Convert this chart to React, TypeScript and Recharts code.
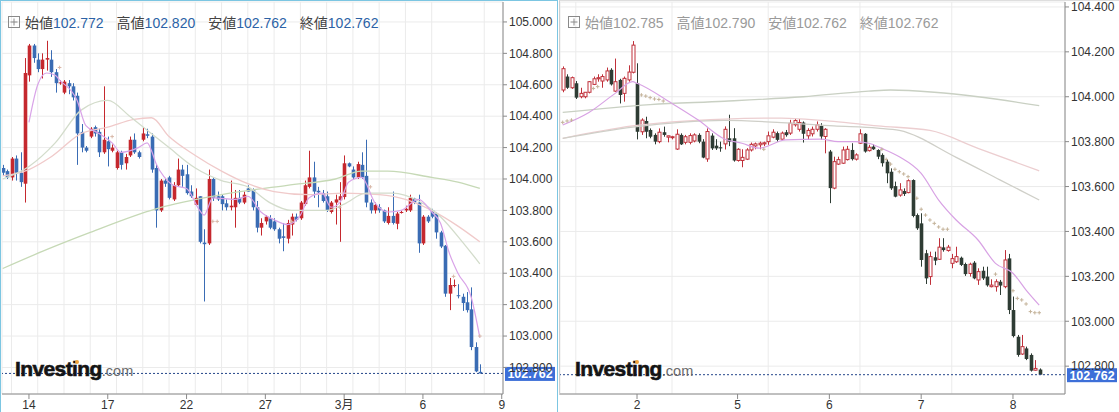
import React from 'react';
import { ComposedChart, Bar, Line, XAxis, YAxis, CartesianGrid, ReferenceLine } from 'recharts';

// ---- left panel (4h candles) : [open, high, low, close]
const leftCandles = [
  [104.07, 104.09, 104.02, 104.04], [104.05, 104.06, 104.0, 104.01], [104.01, 104.14, 103.99, 104.13], [104.13, 104.15, 103.99, 104.04],
  [104.04, 104.17, 103.95, 103.98], [103.97, 104.77, 103.85, 104.675], [104.66, 104.86, 104.62, 104.85], [104.85, 104.86, 104.74, 104.77],
  [104.76, 104.8, 104.68, 104.7], [104.7, 104.8, 104.64, 104.76], [104.76, 104.88, 104.69, 104.77], [104.76, 104.82, 104.65, 104.68],
  [104.68, 104.7, 104.55, 104.61], [104.61, 104.63, 104.6, 104.615], [104.55, 104.63, 104.54, 104.62], [104.61, 104.63, 104.54, 104.59],
  [104.59, 104.61, 104.5, 104.52], [104.53, 104.55, 104.09, 104.29], [104.3, 104.35, 104.17, 104.2], [104.2, 104.21, 104.17, 104.18],
  [104.27, 104.33, 104.26, 104.32], [104.33, 104.34, 104.27, 104.29], [104.3, 104.32, 104.14, 104.17], [104.17, 104.59, 104.16, 104.25],
  [104.24, 104.27, 104.08, 104.19], [104.18, 104.22, 104.17, 104.2], [104.07, 104.18, 104.06, 104.17], [104.17, 104.18, 104.06, 104.09],
  [104.1, 104.16, 104.06, 104.14], [104.15, 104.27, 104.14, 104.25], [104.25, 104.29, 104.16, 104.17], [104.17, 104.18, 104.13, 104.14],
  [104.25, 104.33, 104.24, 104.29], [104.285, 104.32, 104.26, 104.275], [104.27, 104.29, 104.04, 104.06], [104.07, 104.09, 103.69, 103.8],
  [103.8, 104.0, 103.79, 103.99], [103.99, 104.0, 103.95, 103.97], [104.01, 104.02, 103.87, 103.88], [103.87, 103.98, 103.86, 103.96],
  [103.96, 104.13, 103.95, 104.06], [104.06, 104.09, 103.95, 104.02], [104.03, 104.09, 103.9, 103.91], [103.92, 103.96, 103.88, 103.89],
  [103.835, 103.94, 103.83, 103.88], [103.89, 103.89, 103.59, 103.6], [103.595, 103.68, 103.22, 103.585], [103.59, 104.06, 103.58, 104.0],
  [104.0, 104.01, 103.86, 103.88], [103.89, 103.92, 103.86, 103.87], [103.89, 103.9, 103.8, 103.84], [103.845, 103.87, 103.8, 103.82],
  [103.82, 103.99, 103.8, 103.83], [103.82, 103.93, 103.69, 103.88], [103.88, 103.93, 103.84, 103.85], [103.85, 103.92, 103.84, 103.9],
  [103.94, 103.96, 103.92, 103.92], [103.93, 103.94, 103.8, 103.82], [103.82, 103.86, 103.66, 103.69], [103.69, 103.75, 103.64, 103.72],
  [103.73, 103.77, 103.71, 103.76], [103.75, 103.77, 103.68, 103.69], [103.73, 103.75, 103.67, 103.68], [103.68, 103.69, 103.59, 103.62],
  [103.635, 103.72, 103.54, 103.625], [103.62, 103.74, 103.59, 103.72], [103.71, 103.78, 103.64, 103.76], [103.76, 103.78, 103.73, 103.74],
  [103.75, 103.86, 103.74, 103.85], [103.84, 103.99, 103.83, 103.96], [103.95, 104.18, 103.94, 104.01], [104.01, 104.11, 103.88, 103.92],
  [103.925, 103.95, 103.82, 103.915], [103.91, 103.93, 103.85, 103.86], [103.89, 103.92, 103.79, 103.8], [103.79, 103.86, 103.78, 103.85],
  [103.85, 103.9, 103.71, 103.87], [103.865, 103.98, 103.6, 103.89], [103.885, 104.15, 103.87, 104.1], [104.1, 104.105, 104.075, 104.08],
  [104.06, 104.08, 104.0, 104.01], [104.01, 104.11, 104.0, 104.095], [104.09, 104.17, 104.0, 104.01], [104.02, 104.25, 103.82, 103.85],
  [103.85, 103.87, 103.78, 103.8], [103.8, 103.85, 103.78, 103.835], [103.82, 103.84, 103.785, 103.8], [103.8, 103.805, 103.72, 103.73],
  [103.72, 103.82, 103.71, 103.765], [103.765, 103.92, 103.71, 103.72], [103.715, 103.79, 103.68, 103.78], [103.785, 103.8, 103.78, 103.79],
  [103.8, 103.83, 103.79, 103.81], [103.8, 103.9, 103.79, 103.88], [103.875, 103.88, 103.84, 103.85], [103.85, 103.9, 103.53, 103.59],
  [103.59, 103.77, 103.58, 103.76], [103.76, 103.77, 103.72, 103.73], [103.8, 103.81, 103.75, 103.76], [103.78, 103.79, 103.62, 103.66],
  [103.66, 103.67, 103.56, 103.57], [103.575, 103.58, 103.25, 103.27], [103.27, 103.37, 103.165, 103.325], [103.32, 103.36, 103.31, 103.325],
  [103.26, 103.33, 103.24, 103.255], [103.25, 103.27, 103.16, 103.21], [103.215, 103.28, 103.15, 103.165], [103.17, 103.31, 102.91, 102.93],
  [102.93, 102.96, 102.77, 102.775], [102.772, 102.82, 102.762, 102.762],
];

// moving averages: [candle index, value]
const leftMaFast = [
  [6, 104.36], [8, 104.6], [10, 104.675], [12, 104.66], [13, 104.63], [17, 104.5], [19, 104.34], [22, 104.29], [25, 104.23], [27, 104.17],
  [31, 104.2], [33, 104.23], [34, 104.18], [35, 104.1], [37, 104.01], [39, 103.96], [42, 103.94], [45, 103.8], [46, 103.77], [48, 103.88],
  [53, 103.87], [56, 103.89], [59, 103.79], [62, 103.74], [65, 103.71], [68, 103.77], [70, 103.88], [73, 103.91], [75, 103.82], [77, 103.85],
  [79, 103.98], [82, 104.01], [85, 103.85], [88, 103.79], [91, 103.8], [95, 103.87], [98, 103.79], [100, 103.72], [102, 103.53], [104, 103.4],
  [107, 103.25], [109, 102.99],
];
const leftMaMid = [
  [0, 104.0], [6, 104.08], [12, 104.23], [18, 104.44], [24, 104.5], [29, 104.4], [33, 104.31], [38, 104.2], [44, 104.07], [50, 103.99],
  [56, 103.95], [61, 103.85], [66, 103.8], [74, 103.8], [78, 103.84], [83, 103.91], [89, 103.91], [95, 103.86], [100, 103.76], [105, 103.6],
  [109, 103.46],
];
const leftMaSlow = [
  [0, 104.02], [6, 104.06], [11, 104.14], [18, 104.29], [24, 104.33], [30, 104.38], [34, 104.39], [38, 104.27], [44, 104.15], [50, 104.05],
  [56, 103.97], [62, 103.92], [70, 103.9], [78, 103.91], [86, 103.9], [92, 103.87], [98, 103.8], [104, 103.7], [109, 103.6],
];
const leftMaLong = [
  [0, 103.43], [10, 103.55], [20, 103.66], [35, 103.81], [50, 103.9], [65, 103.96], [76, 104.0], [82, 104.05], [88, 104.05], [98, 104.01],
  [104, 103.98], [109, 103.94],
];
const leftPlus = [[13, 104.71], [25, 104.27], [48, 103.73], [49, 103.73], [66, 103.73], [77, 103.82], [84, 103.95], [103, 103.38], [109, 103.0]];

// ---- right panel (hourly candles)
const rightCandles = [
  [104.03, 104.135, 104.02, 104.125], [104.09, 104.1, 104.035, 104.04], [104.04, 104.09, 104.035, 104.085], [104.06, 104.07, 103.99, 103.996],
  [104.0, 104.04, 103.993, 104.015], [104.0, 104.02, 103.993, 104.02], [104.02, 104.07, 104.015, 104.067], [104.055, 104.09, 104.052, 104.08],
  [104.08, 104.1, 104.067, 104.085], [104.07, 104.1, 104.04, 104.09], [104.075, 104.13, 104.067, 104.115], [104.12, 104.127, 104.05, 104.055],
  [104.025, 104.17, 104.022, 104.067], [104.075, 104.08, 103.97, 104.008], [104.015, 104.09, 103.978, 104.082], [104.075, 104.14, 104.067, 104.11],
  [104.109, 104.248, 104.104, 104.23], [104.06, 104.149, 103.81, 103.844], [103.844, 103.904, 103.83, 103.896], [103.892, 103.911, 103.815, 103.844],
  [103.852, 103.859, 103.815, 103.822], [103.83, 103.837, 103.788, 103.8], [103.8, 103.859, 103.793, 103.842], [103.842, 103.867, 103.822, 103.83],
  [103.82, 103.826, 103.797, 103.826], [103.818, 103.826, 103.81, 103.822], [103.767, 103.855, 103.763, 103.833], [103.83, 103.837, 103.785, 103.788],
  [103.797, 103.83, 103.788, 103.822], [103.797, 103.837, 103.788, 103.827], [103.803, 103.837, 103.797, 103.83], [103.83, 103.837, 103.793, 103.8],
  [103.8, 103.811, 103.726, 103.729], [103.723, 103.859, 103.71, 103.845], [103.827, 103.837, 103.763, 103.77], [103.782, 103.811, 103.763, 103.77],
  [103.775, 103.8, 103.755, 103.77], [103.79, 103.868, 103.765, 103.855], [103.815, 103.92, 103.78, 103.8], [103.815, 103.86, 103.711, 103.716],
  [103.716, 103.771, 103.711, 103.766], [103.716, 103.766, 103.686, 103.73], [103.722, 103.771, 103.718, 103.763], [103.763, 103.796, 103.756, 103.788],
  [103.781, 103.796, 103.766, 103.79], [103.786, 103.8, 103.766, 103.793], [103.79, 103.8, 103.78, 103.795], [103.8, 103.845, 103.786, 103.826],
  [103.82, 103.855, 103.815, 103.842], [103.838, 103.845, 103.8, 103.808], [103.811, 103.845, 103.808, 103.838], [103.842, 103.852, 103.822, 103.829],
  [103.838, 103.897, 103.83, 103.882], [103.875, 103.904, 103.867, 103.894], [103.855, 103.901, 103.845, 103.885], [103.885, 103.89, 103.796, 103.835],
  [103.826, 103.86, 103.808, 103.85], [103.835, 103.867, 103.823, 103.855], [103.855, 103.89, 103.845, 103.875], [103.87, 103.882, 103.808, 103.823],
  [103.823, 103.86, 103.748, 103.855], [103.756, 103.763, 103.526, 103.593], [103.593, 103.733, 103.588, 103.711], [103.7, 103.733, 103.696, 103.72],
  [103.704, 103.778, 103.701, 103.763], [103.72, 103.781, 103.716, 103.766], [103.763, 103.793, 103.716, 103.722], [103.722, 103.748, 103.716, 103.741],
  [103.793, 103.855, 103.79, 103.835], [103.835, 103.838, 103.751, 103.756], [103.76, 103.786, 103.756, 103.775], [103.778, 103.788, 103.763, 103.766],
  [103.763, 103.766, 103.722, 103.733], [103.741, 103.748, 103.689, 103.704], [103.711, 103.722, 103.615, 103.659], [103.666, 103.681, 103.585, 103.592],
  [103.602, 103.622, 103.552, 103.555], [103.562, 103.615, 103.555, 103.585], [103.58, 103.592, 103.558, 103.567], [103.573, 103.632, 103.57, 103.626],
  [103.629, 103.632, 103.463, 103.469], [103.473, 103.48, 103.407, 103.414], [103.436, 103.481, 103.243, 103.273], [103.303, 103.318, 103.166, 103.191],
  [103.199, 103.31, 103.162, 103.288], [103.285, 103.31, 103.25, 103.27], [103.276, 103.37, 103.273, 103.33], [103.329, 103.37, 103.31, 103.317],
  [103.315, 103.34, 103.31, 103.33], [103.258, 103.3, 103.236, 103.279], [103.265, 103.332, 103.26, 103.288], [103.283, 103.288, 103.246, 103.251],
  [103.255, 103.261, 103.202, 103.21], [103.213, 103.261, 103.199, 103.254], [103.261, 103.268, 103.187, 103.191], [103.184, 103.236, 103.162, 103.221],
  [103.225, 103.243, 103.184, 103.191], [103.199, 103.243, 103.154, 103.16], [103.154, 103.187, 103.151, 103.161], [103.154, 103.187, 103.132, 103.176],
  [103.176, 103.184, 103.117, 103.159], [103.154, 103.317, 103.147, 103.273], [103.28, 103.3, 103.032, 103.05], [103.05, 103.11, 102.928, 102.934],
  [102.931, 102.939, 102.842, 102.85], [102.854, 102.939, 102.85, 102.887], [102.879, 102.887, 102.827, 102.832], [102.85, 102.857, 102.776, 102.78],
  [102.782, 102.827, 102.78, 102.79], [102.785, 102.79, 102.762, 102.762],
];

const rightMaFast = [
  [0, 103.874], [6, 103.93], [12, 104.015], [16, 104.067], [17, 104.06], [25, 103.97], [31, 103.896], [37, 103.812], [41, 103.793], [45, 103.771],
  [51, 103.808], [59, 103.811], [63, 103.8], [67, 103.8], [70, 103.793], [73, 103.77], [77, 103.733], [82, 103.659], [86, 103.54], [90, 103.451],
  [95, 103.362], [99, 103.258], [103, 103.214], [106, 103.139], [109, 103.072],
];
const rightMaMid = [
  [0, 103.815], [16, 103.865], [37, 103.895], [50, 103.885], [62, 103.87], [72, 103.86], [77, 103.85], [90, 103.73], [100, 103.63], [109, 103.54],
];
const rightMaSlow = [[0, 103.815], [16, 103.87], [37, 103.9], [50, 103.905], [62, 103.89], [72, 103.87], [84, 103.85], [95, 103.77], [109, 103.67]];
const rightMaLong = [[0, 103.93], [20, 103.965], [37, 103.98], [55, 104.0], [70, 104.025], [75, 104.03], [85, 104.02], [95, 104.0], [109, 103.96]];
const rightPlus = [
  [0, 103.886], [1, 103.892], [2, 103.896], [7, 104.037], [8, 104.045], [18, 104.008], [19, 104.003], [20, 103.996], [21, 103.99], [22, 103.988],
  [23, 103.981], [46, 103.766], [73, 103.766], [74, 103.721], [75, 103.7], [76, 103.677], [77, 103.666], [78, 103.656], [79, 103.644], [81, 103.548],
  [82, 103.499], [83, 103.473], [84, 103.451], [85, 103.436], [86, 103.42], [87, 103.41], [88, 103.41], [99, 103.21], [103, 103.136], [104, 103.102],
  [105, 103.095], [106, 103.077], [107, 103.043], [108, 103.038], [109, 103.038],
];

// axes
const leftYTicks = [102.8, 103.0, 103.2, 103.4, 103.6, 103.8, 104.0, 104.2, 104.4, 104.6, 104.8, 105.0];
const rightYTicks = [102.8, 103.0, 103.2, 103.4, 103.6, 103.8, 104.0, 104.2, 104.4];
const leftXTicks = [6, 24, 42, 60, 78, 96, 114];
const leftXLabels = ['14', '17', '22', '27', '3月', '6', '9'];
const rightXTicks = [17, 40, 61, 82, 103];
const rightXLabels = ['2', '5', '6', '7', '8'];
const leftGridTicks = [2, 8, 14, 20, 26, 32, 38, 44, 50, 56, 62, 68, 74, 80, 86, 92, 98, 104, 110];
const rightGridTicks = [3, 25, 47, 68, 89];

const headerLabels = ['始値', '高値', '安値', '終値'];
const leftHeaderValues = ['102.772', '102.820', '102.762', '102.762'];
const rightHeaderValues = ['102.785', '102.790', '102.762', '102.762'];
const lastPrice = 102.762;

const FONT = '"Liberation Sans", Arial, "Noto Sans CJK JP", sans-serif';

function buildRows(candles: number[][], lines: Record<string, number[][]>, plus: number[][]) {
  return candles.map(([o, h, l, c], i) => {
    const row: any = { i, o, h, l, c };
    Object.keys(lines).forEach((k) => {
      const hit = lines[k].find((p) => p[0] === i);
      row[k] = hit ? hit[1] : null;
    });
    const p = plus.find((q) => q[0] === i);
    row.plus = p ? p[1] : null;
    return row;
  });
}

function makeCandle(upColor: string, downColor: string, hollowUp: boolean) {
  return (props: any) => {
    const { x, y, width, height, payload } = props;
    if (x == null || y == null || !payload) return <g />;
    const { o, h, l, c } = payload;
    const top = height < 0 ? y + height : y;
    const span = Math.abs(height);
    const k = h > l ? span / (h - l) : 0;
    const cx = Math.round(x + width / 2) + 0.5;
    const yo = top + (h - o) * k;
    const yc = top + (h - c) * k;
    const up = c >= o;
    const bt = Math.min(yo, yc);
    const bh = Math.max(1, Math.abs(yo - yc));
    const col = up ? upColor : downColor;
    if (hollowUp && up) {
      return (
        <g>
          <line x1={cx} x2={cx} y1={top} y2={top + span} stroke={col} strokeWidth={1} />
          <rect x={cx - 1.5} y={bt} width={3} height={bh} fill="#fff" stroke={col} strokeWidth={1} />
        </g>
      );
    }
    return (
      <g>
        <line x1={cx} x2={cx} y1={top} y2={top + span} stroke={col} strokeWidth={1} />
        <rect x={cx - 1.8} y={bt} width={3.6} height={bh} fill={col} />
      </g>
    );
  };
}

const plusDot = (color: string) => (props: any) => {
  const { cx, cy, value, index } = props;
  if (cx == null || cy == null || value == null) return <g key={index} />;
  return (
    <g key={index}>
      <line x1={cx - 1.8} x2={cx + 1.8} y1={cy} y2={cy} stroke={color} strokeWidth={1} />
      <line x1={cx} x2={cx} y1={cy - 1.8} y2={cy + 1.8} stroke={color} strokeWidth={1} />
    </g>
  );
};

const PriceTag = (props: any) => {
  const vb = props.viewBox;
  if (!vb) return null;
  const x = vb.x + vb.width + 2;
  const y = vb.y;
  return (
    <g>
      <rect x={x} y={y - 6.5} width={50} height={14} fill="#3d6fd8" />
      <text x={x + 25} y={y + 5} textAnchor="middle" fill="#fff" fontSize={12.5} fontWeight="bold" fontFamily={FONT}>
        {lastPrice.toFixed(3)}
      </text>
    </g>
  );
};

function Panel(p: any) {
  const labelOf = (v: number) => {
    const idx = p.xTicks.indexOf(v);
    return idx >= 0 ? p.xLabels[idx] : '';
  };
  return (
    <ComposedChart width={p.width} height={412} data={p.rows} margin={{ top: 2, right: 0, bottom: 0, left: p.left }}>
      <XAxis xAxisId="grid" type="number" dataKey="i" domain={p.xDomain} ticks={p.gridTicks} allowDataOverflow hide />
      <CartesianGrid xAxisId="grid" stroke="#ebebeb" strokeWidth={1} />
      <XAxis
        type="number"
        dataKey="i"
        domain={p.xDomain}
        ticks={p.xTicks}
        allowDataOverflow
        interval={0}
        tickFormatter={labelOf}
        height={18}
        tickLine={{ stroke: '#8a8a8a' }}
        tickSize={5}
        tickMargin={1}
        axisLine={{ stroke: '#8a8a8a' }}
        tick={{ fill: '#333', fontSize: 12 }}
      />
      <YAxis
        orientation="right"
        type="number"
        domain={p.yDomain}
        ticks={p.yTicks}
        allowDataOverflow
        interval={0}
        width={54}
        tickFormatter={(v: number) => v.toFixed(3)}
        tickSize={4}
        tickMargin={2}
        axisLine={{ stroke: '#8a8a8a' }}
        tickLine={{ stroke: '#8a8a8a' }}
        tick={{ fill: '#333', fontSize: 12 }}
      />
      <Line dataKey="maLong" stroke={p.colors.long} strokeWidth={1.3} dot={false} connectNulls type="monotone" isAnimationActive={false} />
      <Line dataKey="maSlow" stroke={p.colors.slow} strokeWidth={1.3} dot={false} connectNulls type="monotone" isAnimationActive={false} />
      <Line dataKey="maMid" stroke={p.colors.mid} strokeWidth={1.3} dot={false} connectNulls type="monotone" isAnimationActive={false} />
      <Line dataKey="maFast" stroke={p.colors.fast} strokeWidth={1.2} dot={false} connectNulls type="monotone" isAnimationActive={false} />
      <Line dataKey="plus" stroke="none" dot={plusDot(p.colors.plus)} isAnimationActive={false} />
      <Bar dataKey={(d: any) => [d.l, d.h]} barSize={3} shape={p.candle} isAnimationActive={false} />
      <ReferenceLine y={lastPrice} stroke="#24468a" strokeDasharray="2 2" strokeWidth={1} label={{ content: PriceTag }} />
    </ComposedChart>
  );
}

function Header({ x, values, labelColor, valueColor }: any) {
  return (
    <div style={{ position: 'absolute', left: x, top: 12, display: 'flex', alignItems: 'center', fontSize: 14, whiteSpace: 'nowrap' }}>
      <svg width={12} height={12} style={{ marginRight: 5 }}>
        <rect x={0.5} y={0.5} width={11} height={11} fill="none" stroke="#8a8a8a" />
        <line x1={6} x2={6} y1={2.5} y2={9.5} stroke="#8a8a8a" />
        <line x1={2.5} x2={9.5} y1={6} y2={6} stroke="#8a8a8a" />
      </svg>
      {headerLabels.map((lab, k) => (
        <span key={lab} style={{ marginRight: 13 }}>
          <span style={{ color: labelColor }}>{lab}</span>
          <span style={{ color: valueColor }}>{values[k]}</span>
        </span>
      ))}
    </div>
  );
}

function Logo({ x }: { x: number }) {
  return (
    <div style={{ position: 'absolute', left: x, top: 357, whiteSpace: 'nowrap', fontFamily: FONT, lineHeight: '24px' }}>
      <span style={{ fontSize: 21, fontWeight: 900, color: '#141414', letterSpacing: -0.6, WebkitTextStroke: '0.6px #141414' }}>Investing</span>
      <span style={{ fontSize: 14.5, color: '#6a6a6a' }}>.com</span>
      <div style={{ position: 'absolute', left: 60, top: 3, width: 4, height: 4, borderRadius: 2, background: '#f2a33a' }} />
    </div>
  );
}

export default function App() {
  const leftRows = buildRows(leftCandles, { maFast: leftMaFast, maMid: leftMaMid, maSlow: leftMaSlow, maLong: leftMaLong }, leftPlus);
  const rightRows = buildRows(rightCandles, { maFast: rightMaFast, maMid: rightMaMid, maSlow: rightMaSlow, maLong: rightMaLong }, rightPlus);
  return (
    <div style={{ position: 'absolute', left: 0, top: 0, width: 1119, height: 412, overflow: 'hidden', background: '#fff', fontFamily: FONT }}>
      <div style={{ position: 'absolute', left: 0, top: 0 }}>
        <Panel
          width={557}
          left={2}
          rows={leftRows}
          xDomain={[-0.16, 114.29]}
          yDomain={[102.631, 105.127]}
          yTicks={leftYTicks}
          xTicks={leftXTicks}
          xLabels={leftXLabels}
          gridTicks={leftGridTicks}
          candle={makeCandle('#c5282e', '#3a6cb4', false)}
          colors={{ fast: '#d9a3e8', mid: '#d3dccb', slow: '#f0caca', long: '#c6d9b6', plus: '#d8b8a8' }}
        />
      </div>
      <div style={{ position: 'absolute', left: 560, top: 0 }}>
        <Panel
          width={559}
          left={0}
          rows={rightRows}
          xDomain={[-0.62, 114.9]}
          yDomain={[102.676, 104.422]}
          yTicks={rightYTicks}
          xTicks={rightXTicks}
          xLabels={rightXLabels}
          gridTicks={rightGridTicks}
          candle={makeCandle('#c0303a', '#2e3c34', true)}
          colors={{ fast: '#d8a2e4', mid: '#cfcfc8', slow: '#ecced0', long: '#c9d0c3', plus: '#c4b39a' }}
        />
      </div>
      <div style={{ position: 'absolute', left: 0, top: 0, width: 556, height: 411, borderTop: '1.5px solid #7cc6e2', borderLeft: '1.5px solid #7cc6e2', borderRight: '1.5px solid #7cc6e2', pointerEvents: 'none' }} />
      <div style={{ position: 'absolute', left: 559, top: 0, width: 560, height: 394, borderTop: '1px solid #dedede', borderLeft: '1px solid #cfcfcf', pointerEvents: 'none' }} />
      <Header x={8} values={leftHeaderValues} labelColor="#444" valueColor="#2c62a6" />
      <Header x={568} values={rightHeaderValues} labelColor="#9a9a9a" valueColor="#9a9a9a" />
      <Logo x={15} />
      <Logo x={575} />
    </div>
  );
}
